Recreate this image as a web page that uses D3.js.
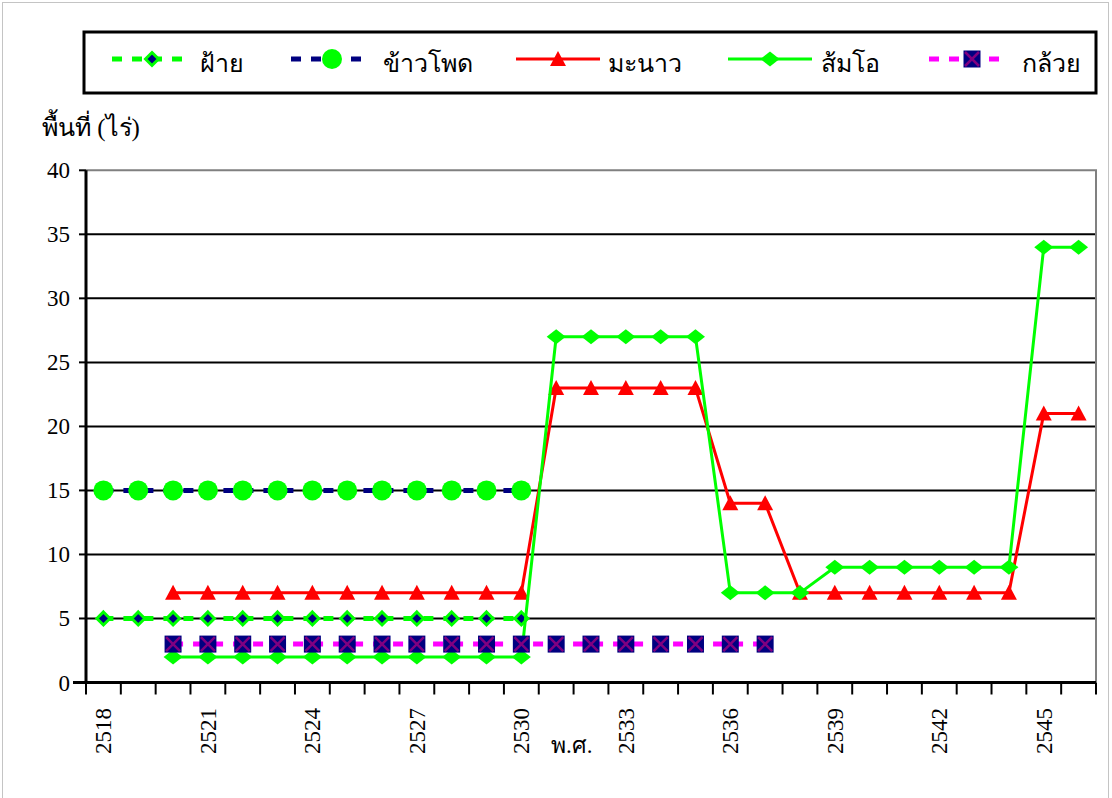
<!DOCTYPE html>
<html><head><meta charset="utf-8">
<script src="https://cdn.jsdelivr.net/npm/d3@7"></script>
</head><body style="margin:0">
<svg id="c" width="1112" height="798"></svg>
<script>
const years = d3.range(2518, 2547);
const tickYears = [2518,2521,2524,2527,2530,2533,2536,2539,2542,2545];
const yTicks = [0,5,10,15,20,25,30,35,40];
const cottonYears = d3.range(2518, 2531);
const cotton = [5,5,5,5,5,5,5,5,5,5,5,5,5];
const cornYears = d3.range(2518, 2531);
const corn = [15,15,15,15,15,15,15,15,15,15,15,15,15];
const limeYears = d3.range(2520, 2547);
const lime = [7,7,7,7,7,7,7,7,7,7,7,23,23,23,23,23,14,14,7,7,7,7,7,7,7,21,21];
const pomeloYears = d3.range(2520, 2547);
const pomelo = [2,2,2,2,2,2,2,2,2,2,2,27,27,27,27,27,7,7,7,9,9,9,9,9,9,34,34];
const bananaYears = d3.range(2520, 2538);
const banana = [3,3,3,3,3,3,3,3,3,3,3,3,3,3,3,3,3,3];
const names = ["ฝ้าย","ข้าวโพด","มะนาว","ส้มโอ","กล้วย"];

const svg = d3.select("#c");
function txt(parent, size){
  return parent.append("text").style("font-family","'Times New Roman'").style("font-size", size+"px").attr("fill","#000");
}
const L = 86, R = 1096, T = 170.3, B = 682.5;
const x = d3.scaleBand().domain(years).range([L, R]);
const y = d3.scaleLinear().domain([0, 40]).range([B, T]);
const cx = v => x(v) + x.bandwidth()/2;

svg.append("rect").attr("x",2.5).attr("y",2.5).attr("width",1106).attr("height",800)
  .attr("fill","none").attr("stroke","#888").attr("stroke-dasharray","1,1");

svg.append("g").selectAll("line").data(yTicks.filter(d=>d>0 && d<40)).join("line")
  .attr("x1",L).attr("x2",R).attr("y1",d=>y(d)).attr("y2",d=>y(d))
  .attr("stroke","#000").attr("stroke-width",2);
svg.append("path").attr("d",`M${L},${T}H${R}V${B}`).attr("fill","none").attr("stroke","#808080").attr("stroke-width",2);

const gy = svg.append("g");
gy.selectAll("line").data(yTicks).join("line")
  .attr("x1",L-7).attr("x2",L).attr("y1",d=>y(d)).attr("y2",d=>y(d))
  .attr("stroke","#000").attr("stroke-width",2);
yTicks.forEach(d => txt(gy, 23).attr("x",L-16).attr("y",y(d)+8).attr("text-anchor","end").text(d));
svg.append("line").attr("x1",L).attr("x2",L).attr("y1",T).attr("y2",B).attr("stroke","#000").attr("stroke-width",3);

const xb = d3.scaleLinear().domain([0, years.length]).range([L, R]);
svg.append("g").selectAll("line").data(d3.range(0, years.length+1)).join("line")
  .attr("x1",d=>xb(d)).attr("x2",d=>xb(d)).attr("y1",B).attr("y2",B+12)
  .attr("stroke","#000").attr("stroke-width",2);
svg.append("line").attr("x1",L-13).attr("x2",R).attr("y1",B).attr("y2",B).attr("stroke","#000").attr("stroke-width",3);
const gx = svg.append("g");
tickYears.forEach(d => txt(gx, 23).attr("transform",`translate(${cx(d)+8},708) rotate(-90)`)
  .attr("text-anchor","end").text(d));
txt(svg, 23).attr("x",551).attr("y",753).text("พ.ศ.");
txt(svg, 25).attr("x",42).attr("y",136).text("พื้นที่ (ไร่)");

function diamond(g, w, h, fill, stroke, sw){
  return g.append("path").attr("d",`M0,${-h}L${w},0L0,${h}L${-w},0Z`).attr("fill",fill)
    .attr("stroke",stroke||"none").attr("stroke-width",sw||0);
}
const markers = {
  cotton: g => diamond(g,6.5,6.5,"#000080","#00ff00",3),
  corn: g => g.append("circle").attr("r",10).attr("fill","#00ff00"),
  lime: g => g.append("path").attr("d","M0,-8L8,7L-8,7Z").attr("fill","#ff0000"),
  pomelo: g => diamond(g,9.5,7.5,"#00ff00"),
  banana: g => { g.append("rect").attr("x",-8.5).attr("y",-8.5).attr("width",17).attr("height",17).attr("fill","#000080");
                 g.append("path").attr("d","M-7,-7L7,7M7,-7L-7,7").attr("stroke","#800080").attr("stroke-width",2.5); }
};
const series = [
  {key:"cotton", xs:cottonYears, vs:cotton, color:"#00ff00", w:5, dash:"10,10"},
  {key:"corn", xs:cornYears, vs:corn, color:"#000080", w:5, dash:"10,10"},
  {key:"lime", xs:limeYears, vs:lime, color:"#ff0000", w:3, dash:null},
  {key:"pomelo", xs:pomeloYears, vs:pomelo, color:"#00ff00", w:3, dash:null},
  {key:"banana", xs:bananaYears, vs:banana, color:"#ff00ff", w:5, dash:"10,10"}
];
const line = d3.line().x(d=>cx(d[0])).y(d=>y(d[1]));
series.forEach(s => {
  const pts = s.xs.map((yr,i)=>[yr, s.vs[i]]);
  svg.append("path").datum(pts).attr("d",line).attr("fill","none")
    .attr("stroke",s.color).attr("stroke-width",s.w).attr("stroke-dasharray",s.dash);
  pts.forEach(p => {
    const g = svg.append("g").attr("transform",`translate(${cx(p[0])},${y(p[1])})`);
    markers[s.key](g);
  });
});

svg.append("rect").attr("x",84).attr("y",32).attr("width",1012).attr("height",61)
  .attr("fill","none").attr("stroke","#000").attr("stroke-width",3);
const leg = [
  {x1:112,x2:182,m:152,t:200},
  {x1:291,x2:363,m:332,t:383},
  {x1:516,x2:600,m:558,t:608},
  {x1:728,x2:812,m:770,t:821},
  {x1:929,x2:1002,m:972,t:1022}
];
series.forEach((s,i)=>{
  const l = leg[i], ly = 59;
  svg.append("line").attr("x1",l.x1).attr("x2",l.x2).attr("y1",ly).attr("y2",ly)
    .attr("stroke",s.color).attr("stroke-width",s.w).attr("stroke-dasharray",s.dash);
  markers[s.key](svg.append("g").attr("transform",`translate(${l.m},${ly})`));
  txt(svg, 25).attr("x",l.t).attr("y",72).text(names[i]);
});
</script></body></html>
